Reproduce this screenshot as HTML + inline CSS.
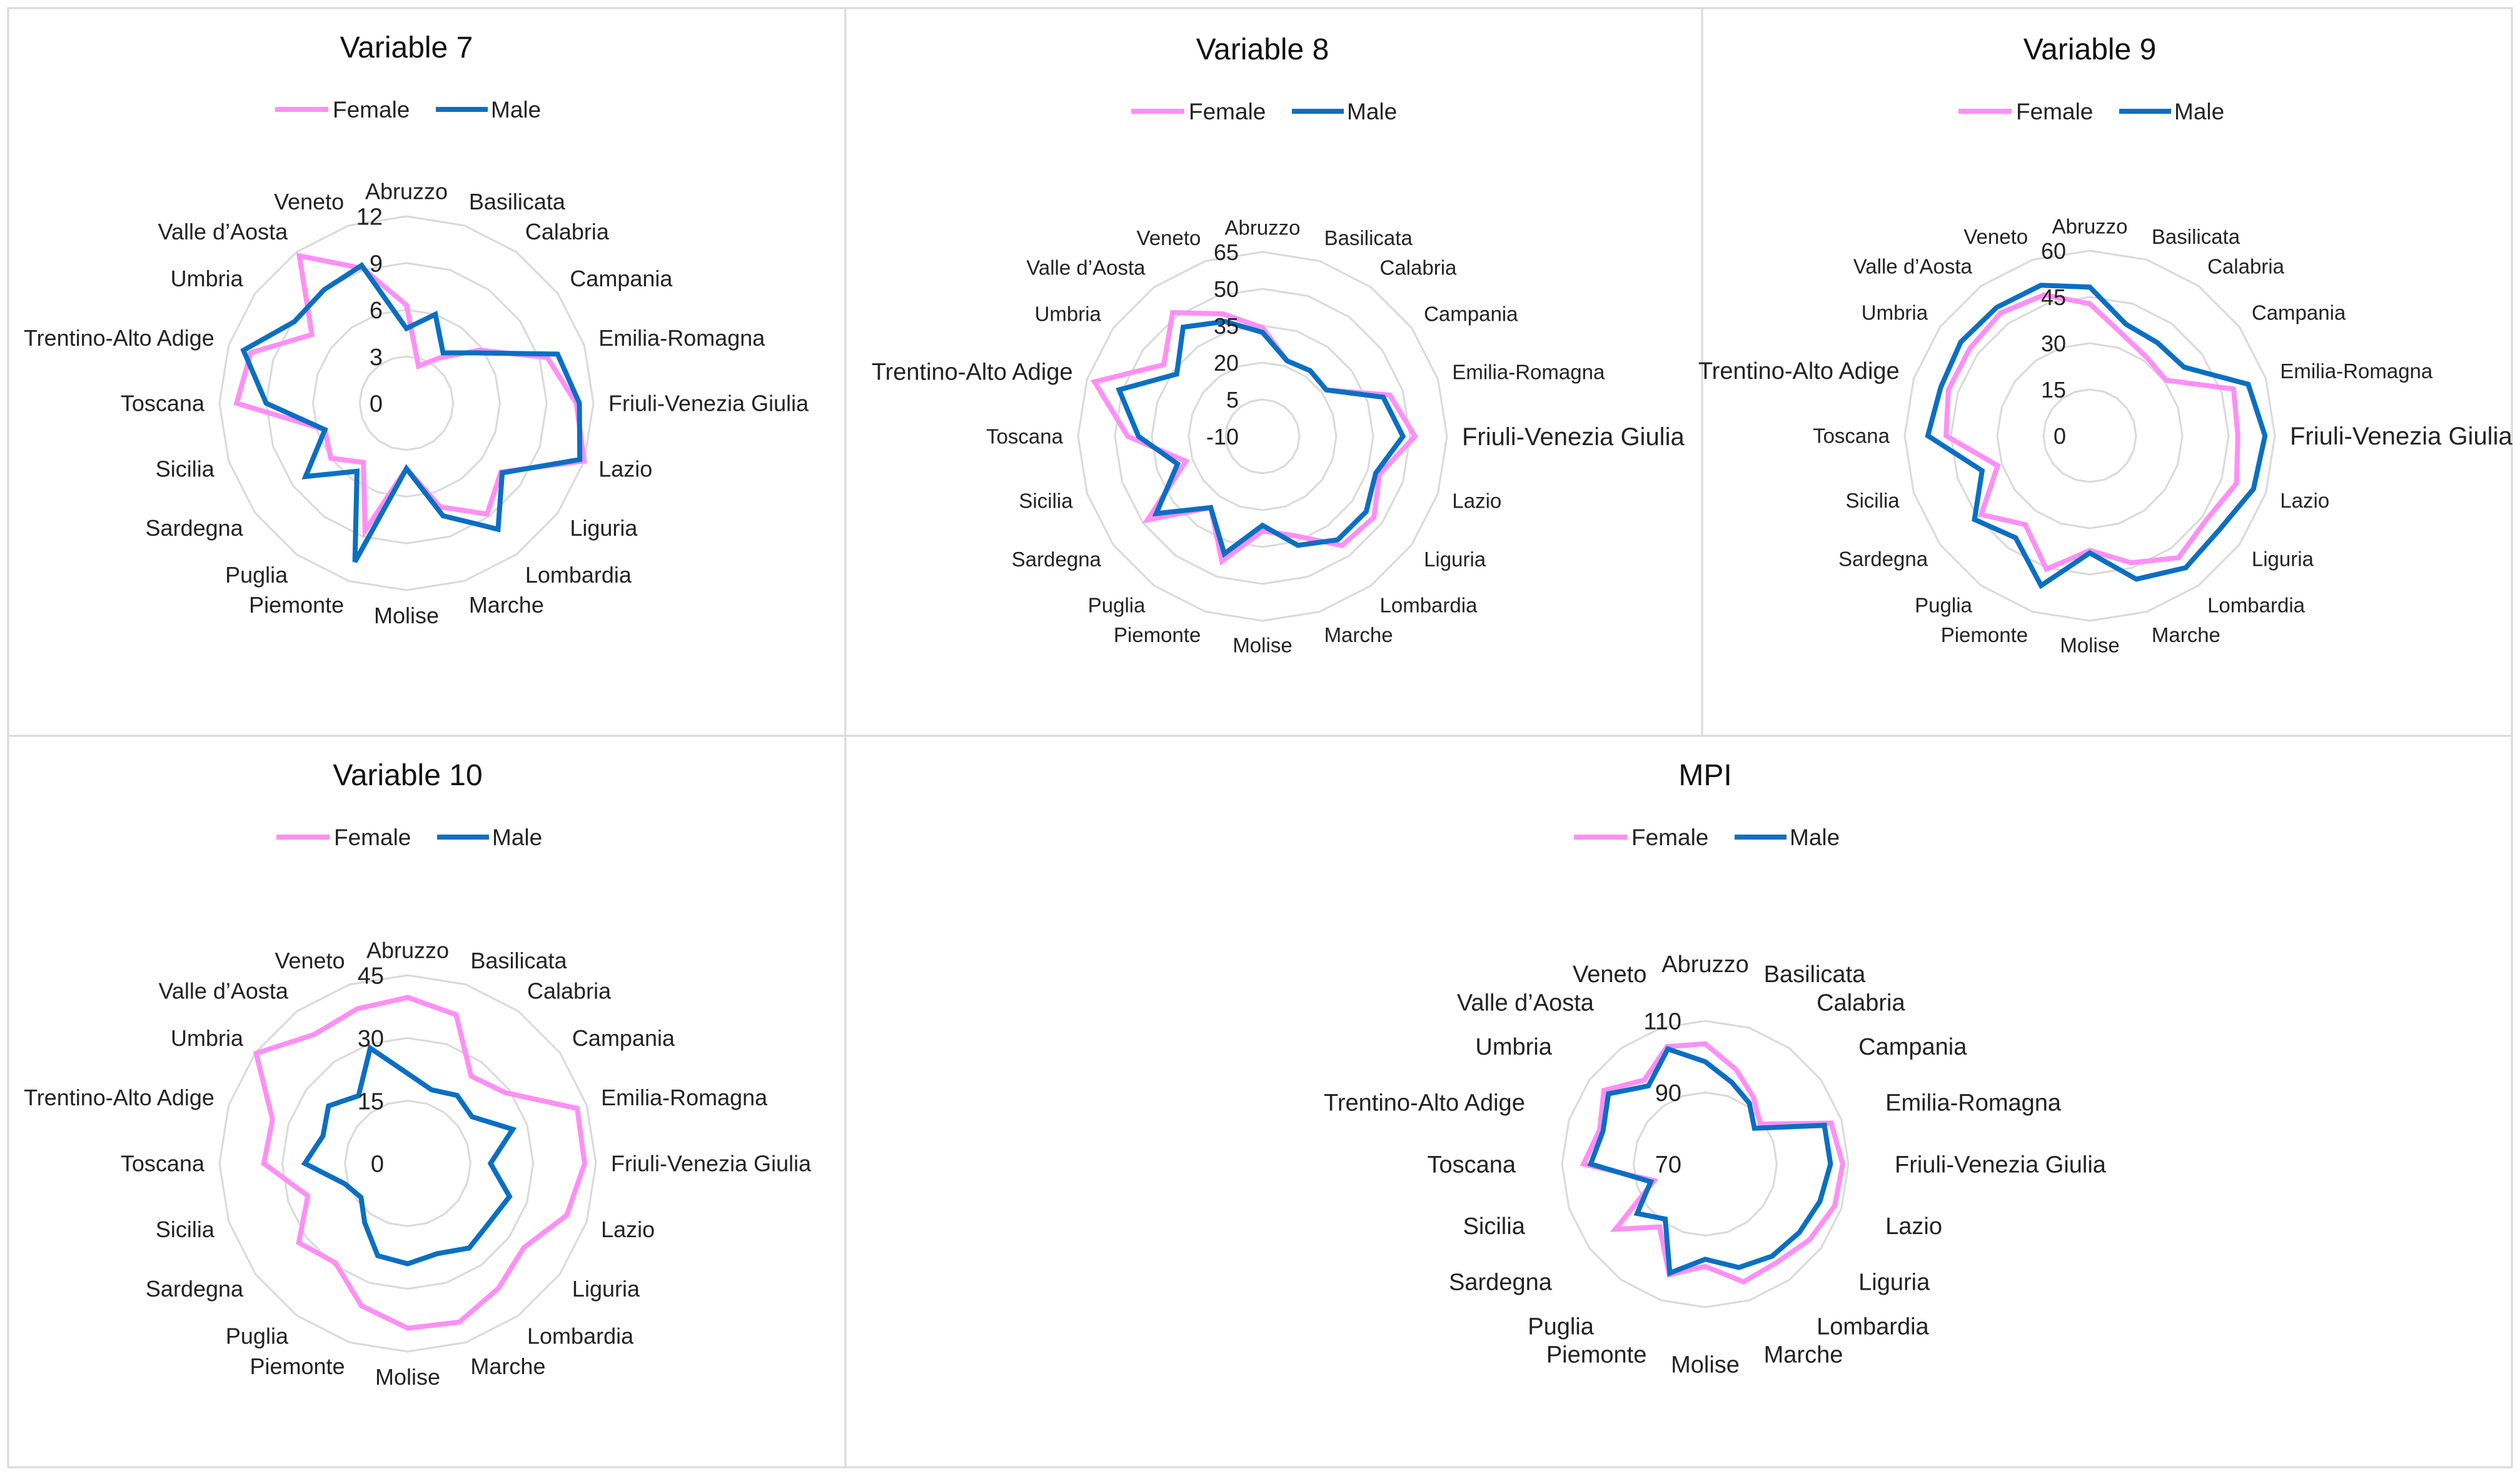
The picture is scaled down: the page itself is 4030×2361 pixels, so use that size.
<!DOCTYPE html>
<html>
<head>
<meta charset="utf-8">
<style>
html,body{margin:0;padding:0;background:#fff;}
body{width:4030px;height:2361px;overflow:hidden;font-family:"Liberation Sans",sans-serif;}
svg{display:block;}
</style>
</head>
<body>
<svg id="root" width="4030" height="2361" viewBox="0 0 4030 2361" xmlns="http://www.w3.org/2000/svg">
  <rect x="0" y="0" width="4030" height="2361" fill="#ffffff"/>
  <rect x="13" y="13" width="1339" height="1164" fill="none" stroke="#d9d9d9" stroke-width="3"/>
  <rect x="1352" y="13" width="1370" height="1164" fill="none" stroke="#d9d9d9" stroke-width="3"/>
  <rect x="2722" y="13" width="1295" height="1164" fill="none" stroke="#d9d9d9" stroke-width="3"/>
  <rect x="13" y="1177" width="1339" height="1170" fill="none" stroke="#d9d9d9" stroke-width="3"/>
  <rect x="1352" y="1177" width="2665" height="1170" fill="none" stroke="#d9d9d9" stroke-width="3"/>
</svg>
<script>
const categories = ["Abruzzo","Basilicata","Calabria","Campania","Emilia-Romagna","Friuli-Venezia Giulia","Lazio","Liguria","Lombardia","Marche","Molise","Piemonte","Puglia","Sardegna","Sicilia","Toscana","Trentino-Alto Adige","Umbria","Valle d\u2019Aosta","Veneto"];

const v7Female = [6.3,2.5,3.6,5.8,9.5,10.9,12.0,7.5,8.8,7.0,4.2,8.6,4.7,6.0,5.5,10.9,10.5,7.5,11.7,9.1];
const v7Male   = [4.8,6.0,4.0,5.5,10.2,11.1,11.7,7.6,10.0,7.6,4.2,10.7,5.4,8.0,5.5,9.0,11.0,8.9,9.0,9.3];
const v7Ticks  = [0,3,6,9,12];

const v8Female = [34.2,22.3,23.0,22.1,44.4,52.0,40.0,46.0,44.9,32.5,28.5,43.4,25.8,47.8,22.7,44.8,61.8,39.6,52.2,42.4];
const v8Male   = [32.3,22.3,23.0,22.1,41.6,47.1,38.4,42.1,42.0,36.6,26.2,40.2,25.8,43.4,26.3,40.4,51.3,33.1,44.9,39.1];
const v8Ticks  = [-10,5,20,35,50,65];

const v9Female = [42.8,34.5,31.4,30.6,49.0,48.0,50.0,46.6,48.9,43.3,37.2,45.5,35.6,43.5,31.4,46.6,48.2,48.1,49.2,48.0];
const v9Male   = [48.2,38.0,37.3,37.8,54.0,56.8,55.8,51.9,52.9,48.9,38.0,51.1,40.9,46.2,36.7,52.5,50.8,51.7,51.4,51.3];
const v9Ticks  = [0,15,30,45,60];

const v10Female = [39.7,37.4,25.8,28.8,42.6,42.3,40.0,34.3,36.9,39.9,39.4,35.8,29.4,32.2,25.1,34.4,34.0,44.8,38.1,38.9];
const v10Male   = [21.5,18.5,20.1,19.0,26.4,19.8,25.6,24.1,25.0,22.7,24.0,23.2,17.5,13.8,15.8,24.6,21.3,23.4,20.0,29.0];
const v10Ticks  = [0,15,30,45];

const mpiFemale = [103.6,97.8,93.0,89.0,107.0,108.4,108.0,106.0,104.0,104.6,98.6,102.5,91.7,101.0,85.0,104.0,101.0,105.0,99.0,104.5];
const mpiMale   = [98.6,94.0,91.0,87.0,105.0,105.0,103.7,102.5,101.8,100.4,96.6,102.0,89.0,93.5,86.0,102.0,100.0,103.4,97.0,103.8];
const mpiTicks  = [70,90,110];

const NS = "http://www.w3.org/2000/svg";
const root = document.getElementById("root");
const PINK = "#ff8ff5", BLUE = "#0a6fc2";

function mk(tag, attrs, parent){
  const e = document.createElementNS(NS, tag);
  for (const k in attrs) e.setAttribute(k, attrs[k]);
  (parent || root).appendChild(e);
  return e;
}

function drawRadar(cfg){
  const g = mk("g", {});
  
  
  const n = categories.length;
  const ticks = cfg.ticks;
  const min = ticks[0], max = ticks[ticks.length-1];
  const rOf = v => (v - min) / (max - min) * cfg.R;
  const pt = (i, r) => {
    const a = i * 2 * Math.PI / n;
    return [cfg.cx + r * Math.sin(a), cfg.cy - r * Math.cos(a)];
  };
  for (let t = 1; t < ticks.length; t++){
    const r = rOf(ticks[t]);
    const pts = [];
    for (let i = 0; i < n; i++) pts.push(pt(i, r).join(","));
    const ring = mk("polygon", {points: pts.join(" "), fill: "none", stroke: "#d9d9d9", "stroke-width": 3}, g);
    
    
  }
  const series = [[cfg.female, PINK, "female"], [cfg.male, BLUE, "male"]];
  series.forEach(s => {
    const pts = s[0].map((v, i) => pt(i, rOf(v)).join(","));
    const poly = mk("polygon", {points: pts.join(" "), fill: "none", stroke: s[1], "stroke-width": 8, "stroke-linejoin": "miter"}, g);
    
    
  });
  ticks.forEach(t => {
    const r = rOf(t);
    const tx = mk("text", {x: cfg.cx - 38, y: cfg.cy - r + cfg.tickSize * 0.36, "text-anchor": "end", "font-size": cfg.tickSize, fill: "#222"}, g);
    tx.textContent = String(t);
    
    
  });
  categories.forEach((c, i) => {
    const a = i * 2 * Math.PI / n;
    const s = Math.sin(a), co = Math.cos(a);
    const [x, y] = pt(i, cfg.R + cfg.gap);
    const anchor = s > 0.2 ? "start" : (s < -0.2 ? "end" : "middle");
    const fs = (cfg.bigLabels && cfg.bigLabels[c]) || cfg.labelSize;
    const ty = y + fs * 0.35 - co * fs * 0.45;
    const tx = mk("text", {x: x, y: ty, "text-anchor": anchor, "font-size": fs, fill: "#222"}, g);
    tx.textContent = c;
    
    
  });
  const title = mk("text", {x: cfg.cx, y: cfg.titleY, "text-anchor": "middle", "font-size": 48, fill: "#111"}, g);
  title.textContent = cfg.title;
  
  
  const ly = cfg.legendY;
  const l1 = mk("line", {x1: cfg.cx - 210, y1: ly, x2: cfg.cx - 125, y2: ly, stroke: PINK, "stroke-width": 8}, g);
  
  
  const t1 = mk("text", {x: cfg.cx - 118, y: ly + 13, "font-size": 37, fill: "#222"}, g);
  t1.textContent = "Female";
  
  
  const l2 = mk("line", {x1: cfg.cx + 47, y1: ly, x2: cfg.cx + 130, y2: ly, stroke: BLUE, "stroke-width": 8}, g);
  
  
  const t2 = mk("text", {x: cfg.cx + 135, y: ly + 13, "font-size": 37, fill: "#222"}, g);
  t2.textContent = "Male";
  
  
}

drawRadar({key:"variable-7", title:"Variable 7", cx:650, cy:645, R:299, ticks:v7Ticks, female:v7Female, male:v7Male, titleY:92, legendY:175, labelSize:36, tickSize:38, gap:24});
drawRadar({key:"variable-8", title:"Variable 8", cx:2019, cy:698, R:295, ticks:v8Ticks, female:v8Female, male:v8Male, titleY:95, legendY:178, labelSize:33, tickSize:36, gap:24, bigLabels:{"Friuli-Venezia Giulia":40,"Trentino-Alto Adige":38}});
drawRadar({key:"variable-9", title:"Variable 9", cx:3342, cy:697, R:296, ticks:v9Ticks, female:v9Female, male:v9Male, titleY:95, legendY:178, labelSize:33, tickSize:36, gap:24, bigLabels:{"Friuli-Venezia Giulia":40,"Trentino-Alto Adige":38}});
drawRadar({key:"variable-10", title:"Variable 10", cx:652, cy:1861, R:301, ticks:v10Ticks, female:v10Female, male:v10Male, titleY:1256, legendY:1339, labelSize:36, tickSize:38, gap:24});
drawRadar({key:"mpi", title:"MPI", cx:2727, cy:1862, R:229, ticks:mpiTicks, female:mpiFemale, male:mpiMale, titleY:1256, legendY:1339, labelSize:38, tickSize:38, gap:74});
</script>
</body>
</html>
